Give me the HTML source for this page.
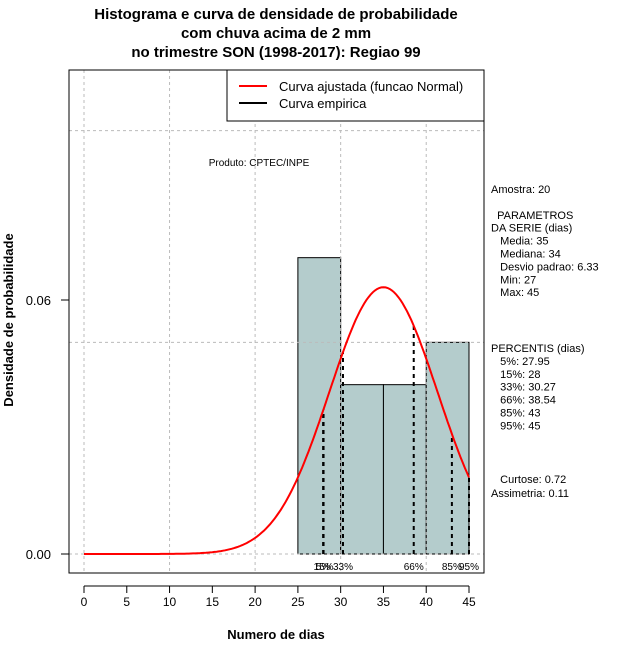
<!DOCTYPE html>
<html><head><meta charset="utf-8"><style>
body{margin:0;background:#fff}
svg{font-family:"Liberation Sans",sans-serif}
</style></head><body>
<svg id="chart" width="640" height="660">
<g id="g"></g>
</svg>
<script>
const binStarts=[25,30,35,40];
const binDens=[0.07,0.04,0.04,0.05];
const xTicks=[0,5,10,15,20,25,30,35,40,45];
const yTicks=[0.00,0.06];
const gridX=[0,10,20,30,40];
const gridY=[0,0.05,0.1];
const pctNames=["5%","15%","33%","66%","85%","95%"];
const pctVals=[27.95,28,30.27,38.54,43,45];
const meanVal=35, sdVal=6.33;
const infoLines=["Amostra: 20","","  PARAMETROS","DA SERIE (dias)","   Media: 35","   Mediana: 34","   Desvio padrao: 6.33","   Min: 27","   Max: 45"];
const pctLines=["PERCENTIS (dias)","   5%: 27.95","   15%: 28","   33%: 30.27","   66%: 38.54","   85%: 43","   95%: 45"];
const NS="http://www.w3.org/2000/svg";
const g=document.getElementById('g');
const X=v=>84+v*(385/45);
const Y=v=>554-v*(254/0.06);
function mk(t,a,txt){const e=document.createElementNS(NS,t);for(const k in a)e.setAttribute(k,a[k]);if(txt!==undefined)e.textContent=txt;g.appendChild(e);return e;}
const pdf=x=>Math.exp(-0.5*((x-meanVal)/sdVal)**2)/(sdVal*Math.sqrt(2*Math.PI));
// bars
binStarts.forEach((s,i)=>{const e=mk('rect',{x:X(s),y:Y(binDens[i]),width:X(s+5)-X(s),height:Y(0)-Y(binDens[i]),fill:'#b4cccc',stroke:'#000'});

});
// grid
gridX.forEach(v=>{const e=mk('line',{x1:X(v),x2:X(v),y1:70,y2:573,stroke:'#bbb','stroke-dasharray':'3,3'});

});
gridY.forEach(v=>{const e=mk('line',{x1:69,x2:484,y1:Y(v),y2:Y(v),stroke:'#bbb','stroke-dasharray':'3,3'});

});
// percentile lines
pctVals.forEach((v,i)=>{const e=mk('line',{x1:X(v),x2:X(v),y1:Y(0),y2:Y(pdf(v)),stroke:'#000','stroke-width':2,'stroke-dasharray':'4,4'});


const t=mk('text',{x:X(v),y:570,'font-size':10,'text-anchor':'middle'},pctNames[i]);

});
// curve
let d='';for(let x=0;x<=45;x+=0.25){d+=(x?'L':'M')+X(x).toFixed(1)+','+Y(pdf(x)).toFixed(1);}
const c=mk('path',{d:d,fill:'none',stroke:'#f00','stroke-width':2});


// box
const b=mk('rect',{x:69,y:70,width:415,height:503,fill:'none',stroke:'#000'});


// axes
const xa=mk('line',{x1:X(0),x2:X(45),y1:586,y2:586,stroke:'#000'});


xTicks.forEach(v=>{mk('line',{x1:X(v),x2:X(v),y1:586,y2:593,stroke:'#000'});
const t=mk('text',{x:X(v),y:606,'font-size':12,'text-anchor':'middle'},String(v));

});
yTicks.forEach(v=>{mk('line',{x1:61,x2:69,y1:Y(v),y2:Y(v),stroke:'#000'});
const t=mk('text',{x:51,y:Y(v)+5,'font-size':13,'text-anchor':'end'},v.toFixed(2));

});
// titles
["Histograma e curva de densidade de probabilidade","com chuva acima de 2 mm","no trimestre SON (1998-2017): Regiao 99"].forEach((s,i)=>{
const t=mk('text',{x:276,y:19+i*19,'font-size':15,'font-weight':'bold','text-anchor':'middle'},s);

});
const xt=mk('text',{x:276,y:639,'font-size':13,'font-weight':'bold','text-anchor':'middle'},'Numero de dias');


const yt=mk('text',{x:13,y:320,'font-size':13,'font-weight':'bold','text-anchor':'middle',transform:'rotate(-90 13 320)'},'Densidade de probabilidade');


const pr=mk('text',{x:259,y:166,'font-size':10,'text-anchor':'middle'},'Produto: CPTEC/INPE');


// legend
const lg=mk('rect',{x:227,y:70,width:257,height:51,fill:'#fff',stroke:'#000'});


mk('line',{x1:239,x2:267,y1:86,y2:86,stroke:'#f00','stroke-width':2});
mk('line',{x1:239,x2:267,y1:103,y2:103,stroke:'#000','stroke-width':2});
const l1=mk('text',{x:279,y:91,'font-size':13},'Curva ajustada (funcao Normal)');


const l2=mk('text',{x:279,y:108,'font-size':13},'Curva empirica');


// side text
infoLines.forEach((s,i)=>{const t=mk('text',{x:491,y:193+i*12.9,'font-size':11},s);t.setAttribute('style','white-space:pre');

});
pctLines.forEach((s,i)=>{const t=mk('text',{x:491,y:352+i*12.9,'font-size':11},s);t.setAttribute('style','white-space:pre');

});
["   Curtose: 0.72","Assimetria: 0.11"].forEach((s,i)=>{const t=mk('text',{x:491,y:483+i*14,'font-size':11},s);t.setAttribute('style','white-space:pre');

});
</script>
</body></html>
